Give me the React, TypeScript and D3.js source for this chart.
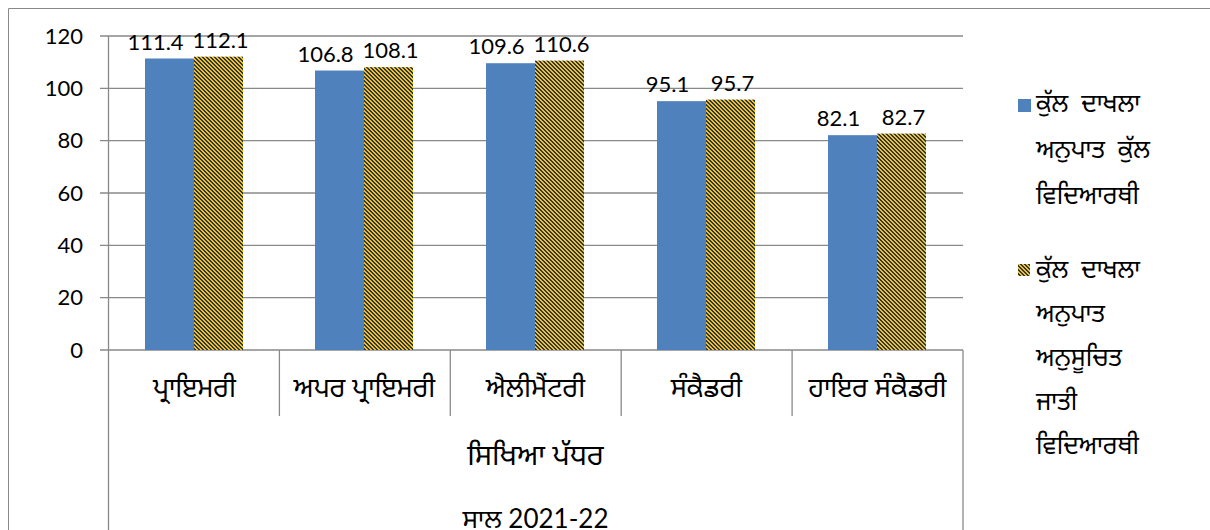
import React from "react";
import * as d3 from "d3";

const categories = ["ਪ੍ਰਾਇਮਰੀ", "ਅਪਰ ਪ੍ਰਾਇਮਰੀ", "ਐਲੀਮੈਂਟਰੀ", "ਸੰਕੈਡਰੀ", "ਹਾਇਰ ਸੰਕੈਡਰੀ"];
const seriesNames = ["total", "sc"];
const totalValues = [111.4, 106.8, 109.6, 95.1, 82.1];
const scValues = [112.1, 108.1, 110.6, 95.7, 82.7];
const yTicks = [0, 20, 40, 60, 80, 100, 120];
const legendTotal = ["ਕੁੱਲ  ਦਾਖਲਾ", "ਅਨੁਪਾਤ  ਕੁੱਲ", "ਵਿਦਿਆਰਥੀ"];
const legendSc = ["ਕੁੱਲ  ਦਾਖਲਾ", "ਅਨੁਪਾਤ", "ਅਨੁਸੂਚਿਤ", "ਜਾਤੀ", "ਵਿਦਿਆਰਥੀ"];
const axisTitle = "ਸਿਖਿਆ ਪੱਧਰ";
const yearLabel = "ਸਾਲ 2021-22";

const W = 1210;
const H = 530;
const FONT = "Lato, 'Noto Sans Gurmukhi', 'Lohit Gurmukhi', 'Noto Sans', sans-serif";
const GRID = "#898989";
const BLUE = "#4F81BD";
const YELLOW = "#FFC000";
const NAVY = "#1F3864";
const hatchCells = d3.range(4).flatMap((r) => [
  [r, r],
  [(r + 1) % 4, r],
]);

export default function App() {
  const x0 = d3.scaleBand<string>().domain(categories).range([108.5, 963]).padding(0);
  const x1 = d3
    .scaleBand<string>()
    .domain(seriesNames)
    .range([0, x0.bandwidth()])
    .paddingInner(0)
    .paddingOuter(0.745);
  const y = d3.scaleLinear().domain([0, 120]).range([350, 36]);

  const data = categories.map((c, i) => ({ c, total: totalValues[i], sc: scValues[i] }));

  return (
    <svg
      width={W}
      height={H}
      style={{ position: "absolute", left: 0, top: 0, fontFamily: FONT }}
    >
      <defs>
        <pattern id="hatch" width={4} height={4} patternUnits="userSpaceOnUse">
          <rect width={4} height={4} fill={YELLOW} shapeRendering="crispEdges" />
          {hatchCells.map(([cx, cy], i) => (
            <rect key={i} x={cx} y={cy} width={1} height={1} fill={NAVY} shapeRendering="crispEdges" />
          ))}
        </pattern>
      </defs>
      <rect x={0} y={0} width={W} height={H} fill="#fff" />
      {/* outer frame */}
      <line x1={8.5} y1={8.5} x2={W} y2={8.5} stroke={GRID} strokeWidth={1} />
      <line x1={8.5} y1={8.5} x2={8.5} y2={H} stroke={GRID} strokeWidth={1} />

      {/* gridlines & y ticks */}
      {yTicks.map((t) => (
        <g key={t}>
          <line x1={100} x2={963} y1={y(t)} y2={y(t)} stroke={GRID} strokeWidth={1.3} />
          <text x={83} y={y(t)} dy="0.35em" textAnchor="end" fontSize={22} fill="#000">
            {t}
          </text>
        </g>
      ))}
      {/* y axis line */}
      <line x1={108.5} x2={108.5} y1={36} y2={H} stroke={GRID} strokeWidth={1.3} />
      {/* category separators */}
      {categories.map((c, i) =>
        i === 0 ? null : (
          <line
            key={c}
            x1={x0(c)!}
            x2={x0(c)!}
            y1={350}
            y2={416}
            stroke={GRID}
            strokeWidth={1.3}
          />
        )
      )}
      <line x1={963} x2={963} y1={350} y2={H} stroke={GRID} strokeWidth={1.3} />

      {/* bars */}
      {data.map((d) => {
        const gx = Math.round(x0(d.c)!);
        const bx = Math.round(x1("total")!);
        const sx = Math.round(x1("sc")!);
        const bw = Math.round(x1.bandwidth());
        return (
          <g key={d.c} transform={`translate(${gx},0)`}>
            <rect x={bx} y={y(d.total)} width={sx - bx} height={y(0) - y(d.total)} fill={BLUE} />
            <rect x={sx} y={y(d.sc)} width={bw} height={y(0) - y(d.sc)} fill="url(#hatch)" />
            <text
              x={bx + bw / 2 - 14}
              y={y(d.total) - 9}
              textAnchor="middle"
              fontSize={22}
            >
              {d.total.toFixed(1)}
            </text>
            <text
              x={sx + bw / 2 + 2}
              y={y(d.sc) - 9}
              textAnchor="middle"
              fontSize={22}
            >
              {d.sc.toFixed(1)}
            </text>
            <text x={x0.bandwidth() / 2} y={397} textAnchor="middle" fontSize={27}>
              {d.c}
            </text>
          </g>
        );
      })}

      {/* axis titles */}
      <text x={535.5} y={465} textAnchor="middle" fontSize={29}>
        {axisTitle}
      </text>
      <text x={535.5} y={528} textAnchor="middle" fontSize={26}>
        {yearLabel}
      </text>

      {/* legend */}
      <rect x={1018} y={99} width={13} height={13} fill={BLUE} />
      {legendTotal.map((t, i) => (
        <text key={"a" + i} x={1036} y={112 + i * 46} fontSize={25} style={{ whiteSpace: "pre" }}>
          {t}
        </text>
      ))}
      <rect x={1018} y={264} width={12} height={12} fill="url(#hatch)" />
      {legendSc.map((t, i) => (
        <text key={"b" + i} x={1036} y={278 + i * 44} fontSize={25} style={{ whiteSpace: "pre" }}>
          {t}
        </text>
      ))}
    </svg>
  );
}
